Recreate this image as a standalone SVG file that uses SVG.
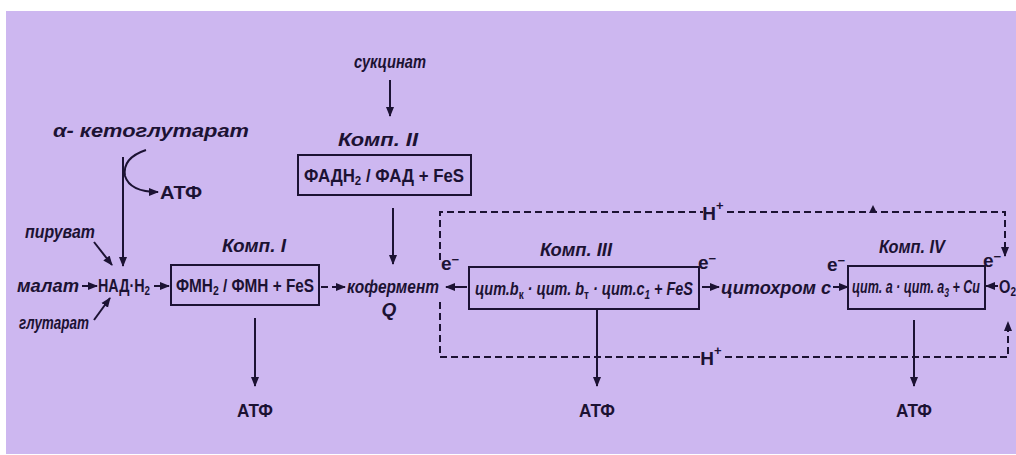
<svg xmlns="http://www.w3.org/2000/svg" width="1016" height="455" viewBox="0 0 1016 455">
<defs>
<marker id="ah" viewBox="0 0 10 10" refX="9" refY="5" markerWidth="5" markerHeight="5" orient="auto" markerUnits="strokeWidth">
<path d="M0,1 L10,5 L0,9 Z" fill="#1c1233"/>
</marker>
<style>
text{font-family:"Liberation Sans",Arial,sans-serif;font-weight:bold;fill:#1c1233;}
.it{font-style:italic;}
.lbl{font-size:19px;}
.sm{font-size:13px;}
.up{font-style:normal;}
.box{fill:none;stroke:#1c1233;stroke-width:2;}
.ln{fill:none;stroke:#1c1233;stroke-width:2;}
.da{fill:none;stroke:#1c1233;stroke-width:2;stroke-dasharray:7 4;}
</style>
</defs>
<rect x="0" y="0" width="1016" height="455" fill="#ffffff"/>
<rect x="6" y="11" width="1010" height="443" fill="#cdb7f0"/>

<g id="connectors">
<line class="ln" x1="390" y1="80" x2="390" y2="116" marker-end="url(#ah)"/>
<line class="ln" x1="393" y1="208" x2="393" y2="264" marker-end="url(#ah)"/>
<line class="ln" x1="123" y1="157" x2="123" y2="266" marker-end="url(#ah)"/>
<path class="ln" d="M146,150 Q122,158 125,176 Q130,192 158,192" marker-end="url(#ah)"/>
<line class="ln" x1="94" y1="242" x2="112" y2="265" marker-end="url(#ah)"/>
<line class="ln" x1="94" y1="320" x2="110" y2="298" marker-end="url(#ah)"/>
<line class="ln" x1="82" y1="286" x2="97" y2="286" marker-end="url(#ah)"/>
<line class="ln" x1="154" y1="286" x2="169" y2="286" marker-end="url(#ah)"/>
<line class="da" x1="321" y1="287" x2="345" y2="287" marker-end="url(#ah)"/>
<line class="ln" x1="467" y1="287" x2="446" y2="287" marker-end="url(#ah)"/>
<line class="ln" x1="702" y1="287" x2="719" y2="287" marker-end="url(#ah)"/>
<line class="da" x1="833" y1="287" x2="848" y2="287" marker-end="url(#ah)"/>
<line class="ln" x1="998" y1="286" x2="986" y2="286" marker-end="url(#ah)"/>
<path class="da" d="M440,260 L440,212 L703,212"/>
<path class="da" d="M727,212 L1005,212 L1005,256" marker-end="url(#ah)"/>
<path d="M869,213 L873,205 L877,213 Z" fill="#1c1233"/>
<path class="da" d="M440,302 L440,357 L701,357"/>
<path class="da" d="M725,357 L1008,357 L1008,322" marker-end="url(#ah)"/>
<line class="ln" x1="255" y1="318" x2="255" y2="386" marker-end="url(#ah)"/>
<line class="ln" x1="597" y1="310" x2="597" y2="386" marker-end="url(#ah)"/>
<line class="ln" x1="914" y1="320" x2="914" y2="386" marker-end="url(#ah)"/>
</g>

<g id="succinate"><text class="lbl it" x="390" y="68" text-anchor="middle" textLength="72" lengthAdjust="spacingAndGlyphs">сукцинат</text></g>

<g id="complex2">
<text class="lbl it" x="378" y="146" text-anchor="middle" textLength="80" lengthAdjust="spacingAndGlyphs">Комп. II</text>
<rect class="box" x="298" y="155" width="173" height="40"/>
<text class="lbl" x="384" y="182" text-anchor="middle" textLength="160" lengthAdjust="spacingAndGlyphs">ФАДН<tspan class="sm" dy="3">2</tspan><tspan dy="-3"> / ФАД + FeS</tspan></text>
</g>

<g id="ketoglutarate"><text class="lbl it" x="151" y="137" text-anchor="middle" textLength="196" lengthAdjust="spacingAndGlyphs">α- кетоглутарат</text></g>
<g id="atp0"><text class="lbl" x="160" y="199" textLength="42" lengthAdjust="spacingAndGlyphs">АТФ</text></g>
<g id="pyruvate"><text class="lbl it" x="60" y="238" text-anchor="middle" textLength="70" lengthAdjust="spacingAndGlyphs">пируват</text></g>
<g id="malate"><text class="lbl it" x="48" y="292" text-anchor="middle" textLength="62" lengthAdjust="spacingAndGlyphs">малат</text></g>
<g id="glutarate"><text class="lbl it" x="54" y="329" text-anchor="middle" textLength="70" lengthAdjust="spacingAndGlyphs">глутарат</text></g>
<g id="nadh"><text class="lbl" x="98" y="292" textLength="52" lengthAdjust="spacingAndGlyphs">НАД·Н<tspan class="sm" dy="3">2</tspan></text></g>

<g id="complex1">
<text class="lbl it" x="254" y="252" text-anchor="middle" textLength="64" lengthAdjust="spacingAndGlyphs">Комп. I</text>
<rect class="box" x="171" y="265" width="148" height="40"/>
<text class="lbl" x="245" y="292" text-anchor="middle" textLength="138" lengthAdjust="spacingAndGlyphs">ФМН<tspan class="sm" dy="3">2</tspan><tspan dy="-3"> / ФМН + FeS</tspan></text>
</g>

<g id="coenzymeQ">
<text class="lbl it" x="393" y="293" text-anchor="middle" textLength="92" lengthAdjust="spacingAndGlyphs">кофермент</text>
<text class="lbl it" x="389" y="316" text-anchor="middle">Q</text>
</g>

<g id="complex3">
<text class="lbl it" x="576" y="256" text-anchor="middle" textLength="72" lengthAdjust="spacingAndGlyphs">Комп. III</text>
<rect class="box" x="469" y="267" width="230" height="42"/>
<text class="lbl it" x="584" y="295" text-anchor="middle" textLength="218" lengthAdjust="spacingAndGlyphs">цит.b<tspan class="sm up" dy="4">к</tspan><tspan dy="-4"> · цит. b</tspan><tspan class="sm up" dy="4">т</tspan><tspan dy="-4"> · цит.c</tspan><tspan class="sm" dy="4">1</tspan><tspan dy="-4"> + FeS</tspan></text>
</g>

<g id="cytc"><text class="lbl it" x="721" y="294" textLength="110" lengthAdjust="spacingAndGlyphs">цитохром c</text></g>

<g id="complex4">
<text class="lbl it" x="912" y="253" text-anchor="middle" textLength="66" lengthAdjust="spacingAndGlyphs">Комп. IV</text>
<rect class="box" x="848" y="266" width="137" height="43"/>
<text class="lbl it" x="916" y="293" text-anchor="middle" textLength="128" lengthAdjust="spacingAndGlyphs">цит. a · цит. a<tspan class="sm" dy="4">3</tspan><tspan dy="-4"> + Cu</tspan></text>
</g>

<g id="o2"><text class="lbl" x="999" y="293" textLength="17" lengthAdjust="spacingAndGlyphs">O<tspan class="sm" dy="3">2</tspan></text></g>

<g id="electrons">
<text class="lbl" x="450" y="270" text-anchor="middle">e<tspan class="sm" dy="-6">−</tspan></text>
<text class="lbl" x="707" y="269" text-anchor="middle">e<tspan class="sm" dy="-6">−</tspan></text>
<text class="lbl" x="836" y="271" text-anchor="middle">e<tspan class="sm" dy="-6">−</tspan></text>
<text class="lbl" x="992" y="267" text-anchor="middle">e<tspan class="sm" dy="-6">−</tspan></text>
</g>

<g id="protons">
<text class="lbl" x="713" y="220" text-anchor="middle">H<tspan class="sm" dy="-10">+</tspan></text>
<text class="lbl" x="711" y="365" text-anchor="middle">H<tspan class="sm" dy="-10">+</tspan></text>
</g>

<g id="atp1"><text class="lbl" x="255" y="417" text-anchor="middle" textLength="36" lengthAdjust="spacingAndGlyphs">АТФ</text></g>
<g id="atp3"><text class="lbl" x="597" y="417" text-anchor="middle" textLength="36" lengthAdjust="spacingAndGlyphs">АТФ</text></g>
<g id="atp4"><text class="lbl" x="914" y="417" text-anchor="middle" textLength="36" lengthAdjust="spacingAndGlyphs">АТФ</text></g>
</svg>
